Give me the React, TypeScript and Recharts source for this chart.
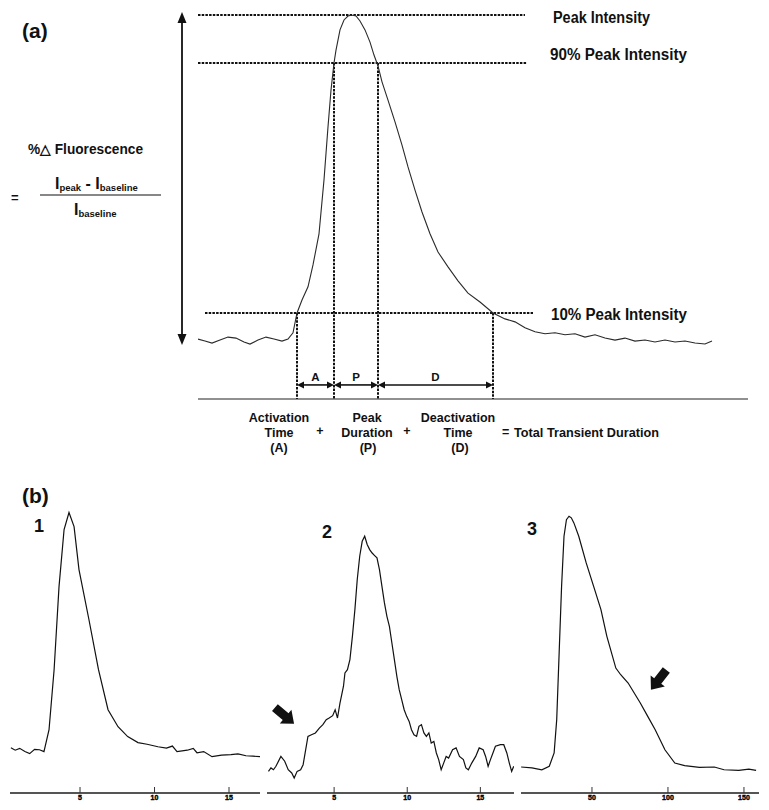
import React from "react";
import { LineChart, Line, XAxis, YAxis, ReferenceLine, ReferenceDot } from "recharts";

const FONT = "'Liberation Sans', Arial, Helvetica, sans-serif";
const INK = "#111";

// (a) example transient: time (arbitrary units) vs intensity (% of peak above baseline)
const transientTime = [
  0, 1.4, 2.8, 4.4, 6, 7.6, 9.2, 10.4, 12, 13.6, 15.2, 16.8, 18, 19, 19.8, 20.8, 22, 23, 24.2, 25.2,
  26, 26.6, 27.2, 27.6, 28.4, 29.2, 30, 30.8, 31.6, 32.4, 33.4, 34.4, 35.2, 36, 36.8, 38, 39.4, 40.8, 42, 43.4,
  44.8, 46.4, 48, 50, 52, 54, 56.4, 59, 61.4, 63.4, 65.4, 67.4, 69.4, 71.4, 73.4, 75.4, 77.4, 79.4, 81.4, 83.4,
  85.4, 87.4, 89.4, 91.4, 93.4, 95.4, 97.4, 99.4, 101.4, 102.8,
];
const transientIntensity = [
  2.1, 1.5, 0.9, 1.8, 2.7, 2.4, 1.2, 0.6, 1.8, 2.7, 2.1, 1.5, 2.1, 4.0, 10, 13.9, 17.9, 24.5, 33.9, 50.2,
  66.2, 77.3, 85.5, 89.4, 95.5, 98.5, 99.7, 100, 99.7, 98.2, 95.5, 91.8, 87.9, 84.6, 79.8, 74.3, 67.7, 60.7, 54.1, 47.1,
  40.5, 33.9, 28.4, 23.9, 19.7, 16.0, 13.3, 10, 8.2, 7.3, 5.5, 4.3, 3.7, 4.0, 3.4, 3.7, 2.7, 3.4, 2.4, 1.8,
  2.4, 1.5, 1.8, 1.2, 1.8, 1.2, 1.5, 0.9, 0.6, 1.5,
];

// threshold levels and crossing times read from (a)
const peakLevel = 100;
const upperLevel = 85.5;
const lowerLevel = 10;
const activationStart = 19.8;
const peakStart = 27.2;
const peakEnd = 36;
const deactivationEnd = 59;
const spanLevel = -11.75;

// (b) three example traces
const trace1Time = [
  0.36, 0.65, 0.95, 1.3, 1.62, 1.95, 2.28, 2.58, 2.92, 3.26, 3.59, 3.93, 4.26, 4.6, 4.93, 5.6, 6.24, 6.88, 7.55, 8.2,
  8.89, 9.5, 10.23, 10.8, 11.2, 11.51, 12.2, 12.6, 12.85, 13.3, 13.86, 14.5, 15.13, 15.6, 16.14, 16.6, 17.08,
];
const trace1Value = [
  -1.3, -2.4, -1.6, -3.0, -3.9, -2.0, -2.2, -3.0, 6.5, 32.6, 68.7, 93.5, 100.9, 94.8, 76.1, 54.3, 32.6, 15.2, 7.8, 3.5,
  0.9, 0.2, -0.9, -1.5, -0.6, -3.0, -2.4, -1.6, -3.5, -3.0, -5.2, -4.5, -4.3, -4.0, -4.8, -5.0, -5.2,
];

const trace2Time = [
  0.51, 0.68, 0.85, 1.02, 1.36, 1.62, 1.86, 2.1, 2.27, 2.47, 2.71, 2.88, 3.21, 3.45, 3.72, 3.99, 4.23, 4.46, 4.66, 4.9,
  5.07, 5.23, 5.4, 5.64, 5.74, 5.91, 6.08, 6.25, 6.42, 6.58, 6.75, 6.92, 7.09, 7.26, 7.43, 7.6, 7.77, 7.93, 8.1, 8.27,
  8.44, 8.61, 8.78, 8.95, 9.12, 9.29, 9.45, 9.62, 9.79, 9.96, 10.13, 10.29, 10.46, 10.64, 10.8, 10.97, 11.14, 11.31, 11.48, 11.64,
  11.82, 11.99, 12.15, 12.32, 12.49, 12.66, 12.83, 13.1, 13.34, 13.57, 13.84, 14.01, 14.18, 14.41, 14.68, 14.92, 15.19, 15.36, 15.53, 15.69,
  15.86, 16.03, 16.37, 16.6, 16.81, 16.98, 17.14, 17.28,
];
const trace2Value = [
  -11.6, -10.1, -10.9, -9.4, -5.1, -7.2, -10.9, -12.3, -14.5, -11.6, -10.9, -8.7, 3.6, 4.3, 5.1, 7.2, 8.7, 10.9, 11.6, 12.6,
  15.2, 11.6, 18.1, 25.4, 31.2, 32.6, 37.0, 47.1, 58.7, 71.7, 81.9, 88.4, 90.6, 87.0, 84.8, 83.3, 82.2, 81.2, 76.1, 68.8,
  61.6, 55.8, 51.4, 44.2, 37.0, 29.7, 23.9, 19.6, 15.2, 12.3, 10.1, 6.5, 4.3, 3.6, 8.0, 8.7, 5.1, 3.6, 5.1, 0.7,
  1.4, -3.6, -6.5, -10.9, -8.0, -5.1, -5.8, -2.2, -1.4, -5.1, -6.5, -10.1, -10.9, -8.0, -5.1, -1.4, -2.2, -5.1, -9.4, -6.5,
  -3.6, -0.7, 0, 0, -3.6, -8.0, -11.6, -9.4,
];

const trace3Time = [
  3.4, 10.5, 17.0, 21.9, 25.1, 26.8, 28.4, 30.0, 31.6, 33.2, 34.9, 36.4, 38.1, 41.3, 46.2, 51.1, 55.9, 59.8, 65.7, 68.9,
  73.8, 81.8, 86.7, 91.6, 98.0, 104.5, 111.0, 120.7, 130.5, 136.9, 146.6, 153.2, 158.0,
];
const trace3Value = [
  -9.7, -10.1, -10.9, -9.4, -3.6, 10.9, 39.9, 68.8, 90.6, 97.8, 99.3, 98.6, 96.4, 90.6, 79.0, 68.8, 58.7, 47.1, 33.3, 30.4,
  26.8, 18.1, 12.3, 6.5, -2.2, -8.0, -9.1, -9.9, -9.7, -10.9, -11.2, -10.6, -11.2,
];

const shortTicks = [5, 10, 15];
const shortTickLabels = ["5", "10", "15"];
const longTicks = [50, 100, 150];
const longTickLabels = ["50", "100", "150"];

const zip = (t: number[], v: number[]) => t.map((x, i) => ({ t: x, v: v[i] }));

function head(tx: number, ty: number, dx: number, dy: number, len: number, half: number) {
  const bx = tx - dx * len;
  const by = ty - dy * len;
  return `${tx},${ty} ${bx - dy * half},${by + dx * half} ${bx + dy * half},${by - dx * half}`;
}

// double-headed arrow drawn between the two segment ends
const doubleArrow = (label: string | null, len: number, half: number, width: number) => (p: any) => {
  const { x1, y1, x2, y2 } = p;
  const L = Math.hypot(x2 - x1, y2 - y1) || 1;
  const dx = (x2 - x1) / L;
  const dy = (y2 - y1) / L;
  return (
    <g>
      <line x1={x1 + dx * len} y1={y1 + dy * len} x2={x2 - dx * len} y2={y2 - dy * len} stroke={INK} strokeWidth={width} />
      <polygon points={head(x1, y1, -dx, -dy, len, half)} fill={INK} />
      <polygon points={head(x2, y2, dx, dy, len, half)} fill={INK} />
      {label && (
        <text x={(x1 + x2) / 2} y={y1 - 4} textAnchor="middle" fontFamily={FONT} fontWeight="bold" fontSize={11.5} fill={INK}>
          {label}
        </text>
      )}
    </g>
  );
};

// thick block arrow, tip at the dot, rotated by angle (deg)
const blockArrow = (angle: number) => (p: any) => {
  const { cx, cy } = p;
  return (
    <polygon
      transform={`translate(${cx},${cy}) rotate(${angle})`}
      points="0,0 -11,-9 -11,-4.5 -25,-4.5 -25,4.5 -11,4.5 -11,9"
      fill={INK}
    />
  );
};

const smallTick = (labels: string[], ticks: number[]) => (p: any) => {
  const { x, y, payload } = p;
  return (
    <g>
      <line x1={x} x2={x} y1={y - 6} y2={y} stroke="#333" strokeWidth={1} />
      <text x={x} y={y + 7} textAnchor="middle" fontFamily={FONT} fontWeight="bold" fontSize={7} fill="#000" stroke="#000" strokeWidth={0.4}>
        {labels[ticks.indexOf(payload.value)]}
      </text>
    </g>
  );
};

const dotted = { stroke: INK, strokeWidth: 2, strokeDasharray: "2.5 1.2", ifOverflow: "visible" as const };

function TracePanel({ data, left, width, domain, ticks, labels, arrow }: any) {
  return (
    <LineChart
      width={width}
      height={300}
      data={data}
      margin={{ top: 0, right: 0, bottom: 0, left: 0 }}
      style={{ position: "absolute", left, top: 510 }}
    >
      <XAxis
        type="number"
        dataKey="t"
        domain={domain}
        ticks={ticks}
        interval={0}
        allowDataOverflow
        height={17}
        tickSize={0}
        tickMargin={0}
        tickLine={false}
        axisLine={{ stroke: "#555", strokeWidth: 2 }}
        tick={smallTick(labels, ticks)}
      />
      <YAxis hide domain={[-21, 102]} allowDataOverflow />
      <Line type="linear" dataKey="v" stroke={INK} strokeWidth={1.2} dot={false} isAnimationActive={false} />
      {arrow && <ReferenceDot x={arrow.t} y={arrow.v} ifOverflow="visible" shape={blockArrow(arrow.angle)} />}
    </LineChart>
  );
}

const T = (props: any) => <text fontFamily={FONT} fontWeight="bold" fill={INK} {...props} />;

export default function App() {
  const transient = zip(transientTime, transientIntensity);
  return (
    <div style={{ position: "absolute", left: 0, top: 0, width: 769, height: 810, background: "#fff" }}>
      <LineChart
        width={769}
        height={409}
        data={transient}
        margin={{ top: 15, right: 21, bottom: 0, left: 198 }}
        style={{ position: "absolute", left: 0, top: 0 }}
      >
        <XAxis
          type="number"
          dataKey="t"
          domain={[0, 110]}
          allowDataOverflow
          height={10}
          tick={false}
          tickLine={false}
          axisLine={{ stroke: "#222", strokeWidth: 1.2 }}
        />
        <YAxis hide domain={[-16, 100]} allowDataOverflow />
        <ReferenceLine {...dotted} segment={[{ x: 0, y: peakLevel }, { x: 65.4, y: peakLevel }]} />
        <ReferenceLine {...dotted} segment={[{ x: 0, y: upperLevel }, { x: 65.8, y: upperLevel }]} />
        <ReferenceLine {...dotted} segment={[{ x: 1.4, y: lowerLevel }, { x: 67, y: lowerLevel }]} />
        <ReferenceLine {...dotted} segment={[{ x: activationStart, y: lowerLevel }, { x: activationStart, y: -16 }]} />
        <ReferenceLine {...dotted} segment={[{ x: peakStart, y: upperLevel }, { x: peakStart, y: -16 }]} />
        <ReferenceLine {...dotted} segment={[{ x: peakEnd, y: upperLevel }, { x: peakEnd, y: -16 }]} />
        <ReferenceLine {...dotted} segment={[{ x: deactivationEnd, y: lowerLevel }, { x: deactivationEnd, y: -16 }]} />
        <ReferenceLine
          ifOverflow="visible"
          segment={[{ x: activationStart, y: spanLevel }, { x: peakStart, y: spanLevel }]}
          shape={doubleArrow("A", 7, 3.5, 1.6)}
        />
        <ReferenceLine
          ifOverflow="visible"
          segment={[{ x: peakStart, y: spanLevel }, { x: peakEnd, y: spanLevel }]}
          shape={doubleArrow("P", 7, 3.5, 1.6)}
        />
        <ReferenceLine
          ifOverflow="visible"
          segment={[{ x: peakEnd, y: spanLevel }, { x: deactivationEnd, y: spanLevel }]}
          shape={doubleArrow("D", 7, 3.5, 1.6)}
        />
        <ReferenceLine
          ifOverflow="visible"
          segment={[{ x: -3.2, y: 100.9 }, { x: -3.2, y: 0.3 }]}
          shape={doubleArrow(null, 11, 4.5, 1.8)}
        />
        <Line type="linear" dataKey="v" stroke="#2a2a2a" strokeWidth={1.1} dot={false} isAnimationActive={false} />
      </LineChart>

      <TracePanel data={zip(trace1Time, trace1Value)} left={10} width={250} domain={[0.3, 17.08]} ticks={shortTicks} labels={shortTickLabels} />
      <TracePanel
        data={zip(trace2Time, trace2Value)}
        left={267}
        width={247}
        domain={[0.41, 17.3]}
        ticks={shortTicks}
        labels={shortTickLabels}
        arrow={{ t: 2.26, v: 9.1, angle: 40 }}
      />
      <TracePanel
        data={zip(trace3Time, trace3Value)}
        left={521}
        width={238}
        domain={[3.3, 159.9]}
        ticks={longTicks}
        labels={longTickLabels}
        arrow={{ t: 88.8, v: 23.9, angle: 128 }}
      />

      <svg width={769} height={810} style={{ position: "absolute", left: 0, top: 0, pointerEvents: "none" }}>
        <T x={22} y={38} fontSize={21}>(a)</T>
        <T x={28} y={154} fontSize={14} textLength={115} lengthAdjust="spacingAndGlyphs">%△ Fluorescence</T>
        <T x={11} y={202} fontSize={13}>=</T>
        <T x={55} y={189} fontSize={16}>
          I<tspan fontSize={9.5} dy={2}>peak</tspan>
          <tspan dy={-2}> - I</tspan>
          <tspan fontSize={9.5} dy={2}>baseline</tspan>
        </T>
        <line x1={40} x2={161} y1={195} y2={195} stroke={INK} strokeWidth={1.2} />
        <T x={74} y={215} fontSize={16}>
          I<tspan fontSize={9.5} dy={2}>baseline</tspan>
        </T>

        <T x={553} y={23} fontSize={16} textLength={97} lengthAdjust="spacingAndGlyphs">Peak Intensity</T>
        <T x={550} y={60} fontSize={16} textLength={137} lengthAdjust="spacingAndGlyphs">90% Peak Intensity</T>
        <T x={551} y={320} fontSize={16} textLength={136} lengthAdjust="spacingAndGlyphs">10% Peak Intensity</T>

        <g textAnchor="middle" fontSize={12.5}>
          <T x={279} y={422}>Activation</T>
          <T x={279} y={437}>Time</T>
          <T x={279} y={452}>(A)</T>
          <T x={320} y={435}>+</T>
          <T x={367} y={422}>Peak</T>
          <T x={367} y={437}>Duration</T>
          <T x={368} y={452}>(P)</T>
          <T x={407} y={435}>+</T>
          <T x={458} y={422}>Deactivation</T>
          <T x={458} y={437}>Time</T>
          <T x={460} y={452}>(D)</T>
        </g>
        <T x={502} y={436} fontSize={12.5}>=</T>
        <T x={514} y={437} fontSize={12.5} textLength={145} lengthAdjust="spacingAndGlyphs">Total Transient Duration</T>

        <T x={22} y={503} fontSize={21}>(b)</T>
        <T x={34} y={532} fontSize={18}>1</T>
        <T x={322} y={538} fontSize={18}>2</T>
        <T x={527} y={535} fontSize={18}>3</T>
      </svg>
    </div>
  );
}
